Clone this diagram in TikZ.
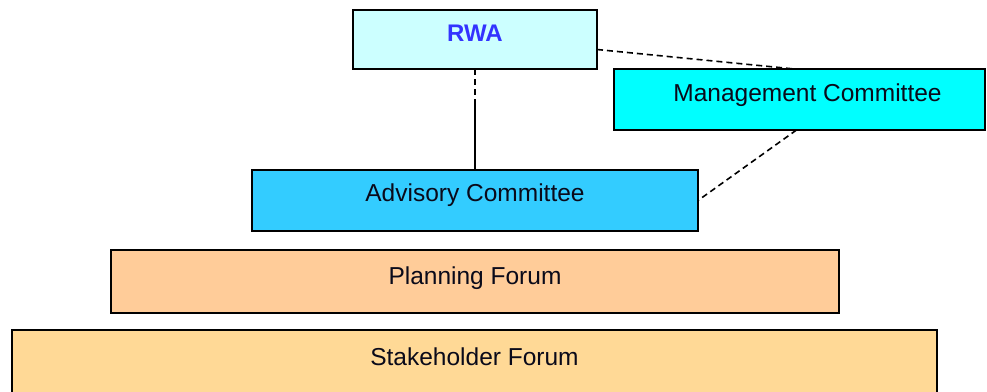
\documentclass[tikz,border=0pt]{standalone}
\usepackage{fontspec}
\setmainfont{Liberation Sans}
\definecolor{rwafill}{HTML}{CCFFFF}
\definecolor{rwatext}{HTML}{3333FF}
\definecolor{mgmtfill}{HTML}{00FFFF}
\definecolor{advfill}{HTML}{33CCFF}
\definecolor{planfill}{HTML}{FFCC99}
\definecolor{stakefill}{HTML}{FFD996}
\definecolor{boxtext}{HTML}{0A0A1A}
\begin{document}
\begin{tikzpicture}[x=1pt,y=-1pt,
  box/.style={draw=black, line width=1.6pt, inner sep=0pt, outer sep=0pt,
    anchor=north west, text height=17.2pt, text=boxtext,
    font=\fontsize{24.5}{28}\selectfont},
  conn/.style={line width=1.6pt, dash pattern=on 6pt off 4pt},
  solidconn/.style={line width=1.6pt}]
\useasboundingbox (0,0) rectangle (987,391);
\clip (0,0) rectangle (987,391);
\node[box, fill=rwafill, minimum width=244pt, minimum height=59pt,
  text depth=14pt, text=rwatext, font=\fontsize{24}{28}\selectfont\bfseries] (rwa) at (353,10) {RWA};
\node[box, fill=mgmtfill, minimum width=371pt, minimum height=61pt,
  text depth=13pt] (mgmt) at (614,69) {\hspace*{16pt}Management Committee};
\node[box, fill=advfill, minimum width=446pt, minimum height=61pt,
  text depth=16pt] (adv) at (252,170) {Advisory Committee};
\node[box, fill=planfill, minimum width=728pt, minimum height=63pt,
  text depth=11pt] (plan) at (111,250) {Planning Forum};
\node[box, fill=stakefill, minimum width=925pt, minimum height=70pt,
  text depth=17pt] (stake) at (12,330) {Stakeholder Forum};
\draw[conn] (rwa.south) -- ++(0,34) coordinate (j);
\draw[solidconn] (j) -- (j |- adv.north);
\draw[conn] ([yshift=-10pt]rwa.east) -- ([xshift=-5pt]mgmt.north);
\draw[conn] ([xshift=-3pt]mgmt.south) -- (adv.east);
\end{tikzpicture}
\end{document}
